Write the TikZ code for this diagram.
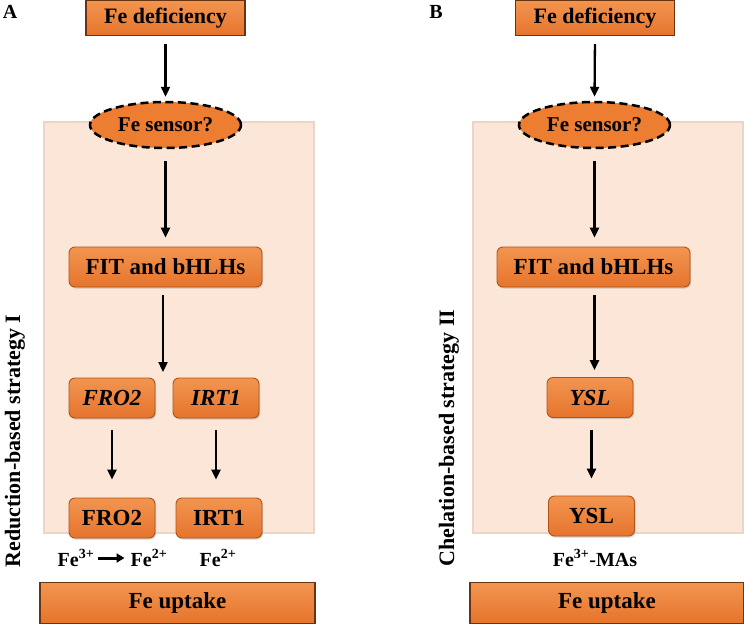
\documentclass[tikz,border=0pt]{standalone}
\usepackage{fontspec}
\setmainfont{Liberation Serif}
\usetikzlibrary{shapes.geometric,arrows.meta,shadows}
\definecolor{orng}{HTML}{ED7D31}
\definecolor{orngL}{HTML}{F29550}
\definecolor{orngD}{HTML}{E6742C}
\definecolor{brd}{HTML}{6B3410}
\definecolor{rbrd}{HTML}{B05517}
\definecolor{peach}{HTML}{FCE6D8}
\definecolor{peachB}{HTML}{E9D6CA}
\begin{document}
\begin{tikzpicture}[x=1pt,y=-1pt,
 sqbox/.style={draw=brd, line width=1.3pt, top color=orngL, bottom color=orngD, inner sep=0pt},
 rbox/.style={draw=rbrd, line width=0.9pt, rounded corners=6pt, top color=orngL, bottom color=orngD, inner sep=0pt, minimum width=86pt, minimum height=40pt, drop shadow={shadow xshift=1pt,shadow yshift=-1.5pt,opacity=0.35}, font=\fontsize{23}{25}\selectfont\bfseries},
 sens/.style={ellipse, draw=black, dash pattern=on 8pt off 4.5pt, line width=2.5pt, fill=orng, minimum width=151pt, minimum height=46pt, inner sep=0pt, font=\fontsize{21}{23}\selectfont\bfseries},
 arr/.style={line width=2.3pt, -{Triangle[length=10pt,width=9pt]}},
 panel/.style={fill=peach, draw=peachB, line width=1.5pt},
 lbl/.style={font=\fontsize{20}{22}\selectfont\bfseries, inner sep=0pt},
 side/.style={rotate=90, font=\fontsize{22}{24}\selectfont\bfseries, inner sep=0pt},
 letter/.style={font=\fontsize{20}{22}\selectfont\bfseries, inner sep=0pt}
]
\useasboundingbox (0,0) rectangle (744,624);

% ---------- Panel A ----------
\draw[panel] (44,122) rectangle (314,533);
\node[letter] (lA) at (10,12) {A};
\node[side] (sideA) at (15,441) {Reduction-based strategy I};

\node[sqbox, minimum width=159pt, minimum height=35pt, font=\fontsize{22}{24}\selectfont\bfseries] (defA) at (165.5,18) {Fe deficiency};
\node[sens] (sensA) at (165.5,125) {Fe sensor?};
\node[rbox, minimum width=193pt] (fitA) at (165.5,267) {FIT and bHLHs};
\coordinate (splitA) at (163,372);
\node[rbox] (fro2gA) at (112,398) {\itshape FRO2};
\node[rbox] (irt1gA) at (216,398) {\itshape IRT1};
\node[rbox] (fro2A) at (112,518) {FRO2};
\node[rbox] (irt1A) at (219,518) {IRT1};
\node[lbl] (fe3A) at (76,558) {Fe\textsuperscript{3+}};
\node[lbl] (fe2A) at (149,558) {Fe\textsuperscript{2+}};
\node[lbl] (fe2bA) at (218,558) {Fe\textsuperscript{2+}};
\node[sqbox, minimum width=275pt, minimum height=41pt, font=\fontsize{23}{25}\selectfont\bfseries] (upA) at (177.5,603) {Fe uptake};

\draw[arr, shorten <=8pt, shorten >=4pt] (defA.south) -- (sensA.north);
\draw[arr, shorten <=12pt, shorten >=9pt] (sensA.south) -- (sensA.south |- fitA.north);
\draw[arr, shorten <=8pt] (fitA.south -| splitA) -- (splitA);
\draw[arr, shorten <=12pt, shorten >=18pt] (fro2gA.south) -- (fro2gA.south |- fro2A.north);
\draw[arr, shorten <=12pt, shorten >=18pt] (irt1gA.south) -- (irt1gA.south |- irt1A.north);
\draw[line width=3pt, -{Triangle[length=8pt,width=9pt]}, shorten <=4pt, shorten >=6pt] (fe3A.east) -- (fe2A.west);

% ---------- Panel B ----------
\draw[panel] (473,122) rectangle (743,533);
\node[letter] (lB) at (436,12) {B};
\node[side] (sideB) at (449,438) {Chelation-based strategy II};

\node[sqbox, minimum width=159pt, minimum height=35pt, font=\fontsize{22}{24}\selectfont\bfseries] (defB) at (595,18) {Fe deficiency};
\node[sens] (sensB) at (594.5,125) {Fe sensor?};
\node[rbox, minimum width=193pt] (fitB) at (593.5,267) {FIT and bHLHs};
\node[rbox] (yslgB) at (590,397.5) {\itshape YSL};
\node[rbox] (yslB) at (591.5,516) {YSL};
\node[lbl] (maB) at (595,558) {Fe\textsuperscript{3+}-MAs};
\node[sqbox, minimum width=274pt, minimum height=41pt, font=\fontsize{23}{25}\selectfont\bfseries] (upB) at (607,603) {Fe uptake};

\draw[arr, shorten <=8pt, shorten >=4pt] (defB.south) -- (sensB.north);
\draw[arr, shorten <=12pt, shorten >=9pt] (sensB.south) -- (sensB.south |- fitB.north);
\draw[arr, shorten <=8pt, shorten >=7pt] (fitB.south -| sensB.south) -- (sensB.south |- yslgB.north);
\draw[arr, shorten <=12pt, shorten >=17pt] (yslgB.south -| yslB.north) -- (yslB.north);
\end{tikzpicture}
\end{document}
